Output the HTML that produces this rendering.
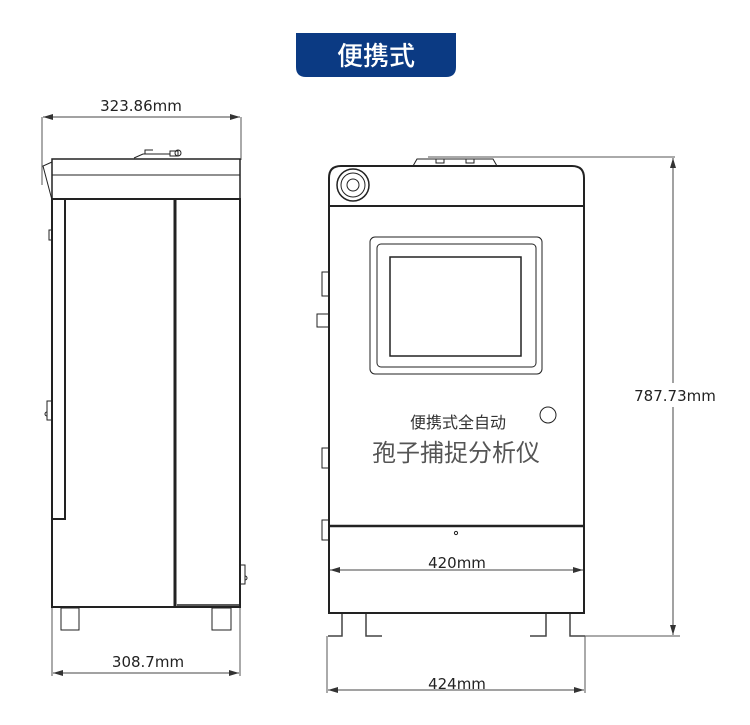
<!DOCTYPE html>
<html><head><meta charset="utf-8"><style>
html,body{margin:0;padding:0;background:#fff;width:750px;height:725px;overflow:hidden}
svg{display:block}
text{font-family:"DejaVu Sans","Liberation Sans","Noto Sans CJK SC",sans-serif}
</style></head><body>
<svg width="750" height="725" viewBox="0 0 750 725" xmlns="http://www.w3.org/2000/svg">
<defs>
<marker id="a" viewBox="0 0 10 6" refX="10" refY="3" markerWidth="10" markerHeight="6" orient="auto-start-reverse" markerUnits="userSpaceOnUse"><path d="M0,0 L10,3 L0,6z" fill="#333"/></marker>
</defs>
<path d="M296,33 H456 V67 Q456,77 446,77 H306 Q296,77 296,67 Z" fill="#0b3a83"/>
<text x="376" y="65" text-anchor="middle" font-size="26" fill="#fff" font-weight="500" font-family="'Noto Sans CJK SC',sans-serif">便携式</text>

<g fill="none" stroke="#222" stroke-width="1.5">
<line x1="42" y1="117" x2="42" y2="185" stroke="#555" stroke-width="1"/>
<line x1="241" y1="117" x2="241" y2="160" stroke="#555" stroke-width="1"/>
<line x1="43" y1="117" x2="240" y2="117" stroke="#444" stroke-width="1" marker-start="url(#a)" marker-end="url(#a)"/>
<rect x="52" y="159" width="188" height="40"/>
<line x1="52" y1="175" x2="240" y2="175" stroke-width="1"/>
<path d="M52,162 L43,166 L52,200" stroke-width="1"/>
<path d="M134,158 L143,154 L170,154 M145,154 l0,-4 l8,0 M170,151 l8,0 l0,5 l-8,0z" stroke-width="1"/>
<circle cx="178" cy="153" r="3" stroke-width="1"/>
<rect x="52" y="199" width="188" height="408" stroke-width="2"/>
<rect x="52" y="199" width="13" height="320" stroke-width="2"/>
<line x1="175" y1="199" x2="175" y2="607" stroke-width="3"/>
<line x1="177" y1="605" x2="240" y2="605" stroke-width="1.5"/>
<path d="M52,401 h-5 v19 h5 M47,412 a2,2 0 0 0 0,4" stroke-width="1"/>
<path d="M240,565 h5 v19 h-5 M245,576 a2,2 0 0 1 0,4" stroke-width="1"/>
<path d="M52,230 h-3 v10 h3" stroke-width="1"/>
<rect x="61" y="608" width="18" height="22" stroke-width="1"/>
<rect x="212" y="608" width="19" height="22" stroke-width="1"/>
<line x1="52" y1="608" x2="52" y2="676" stroke="#555" stroke-width="1"/>
<line x1="240" y1="608" x2="240" y2="676" stroke="#555" stroke-width="1"/>
<line x1="53" y1="673" x2="239" y2="673" stroke="#444" stroke-width="1" marker-start="url(#a)" marker-end="url(#a)"/>

<path d="M329,606 V178 Q329,166 341,166 H572 Q584,166 584,178 V613 H329 Z" stroke-width="2"/>
<line x1="329" y1="206" x2="584" y2="206" stroke-width="2"/>
<path d="M413,166 L417,159 H493 L497,166" stroke-width="1"/>
<rect x="436" y="159" width="8" height="4" stroke-width="1"/>
<rect x="466" y="159" width="8" height="4" stroke-width="1"/>
<line x1="428" y1="157" x2="675" y2="157" stroke="#555" stroke-width="1"/>
<circle cx="353" cy="185" r="16" stroke-width="1.5"/>
<circle cx="353" cy="185" r="12" stroke-width="1"/>
<circle cx="353" cy="185" r="6" stroke-width="1"/>
<rect x="370" y="237" width="172" height="137" rx="5" stroke-width="1"/>
<rect x="377" y="244" width="159" height="123" rx="4" stroke-width="1"/>
<rect x="390" y="257" width="131" height="99" stroke-width="1.5"/>
<circle cx="548" cy="415" r="8" stroke-width="1"/>
<line x1="329" y1="526" x2="584" y2="526" stroke-width="2.5"/>
<circle cx="456" cy="533" r="1.6" stroke-width="1"/>
<rect x="322" y="272" width="7" height="24" stroke-width="1"/>
<rect x="317" y="314" width="12" height="13" stroke-width="1"/>
<rect x="322" y="448" width="7" height="20" stroke-width="1"/>
<rect x="322" y="520" width="7" height="20" stroke-width="1"/>
<line x1="330" y1="570" x2="583" y2="570" stroke="#444" stroke-width="1" marker-start="url(#a)" marker-end="url(#a)"/>
<path d="M328,636 H342 V614 M366,614 V636 H382" stroke-width="1.5" stroke="#444"/>
<path d="M530,636 H546 V614 M570,614 V636 H585" stroke-width="1.5" stroke="#444"/>
<line x1="585" y1="636" x2="680" y2="636" stroke="#555" stroke-width="1"/>
<line x1="327" y1="636" x2="327" y2="693" stroke="#555" stroke-width="1"/>
<line x1="585" y1="636" x2="585" y2="693" stroke="#555" stroke-width="1"/>
<line x1="328" y1="690" x2="584" y2="690" stroke="#444" stroke-width="1" marker-start="url(#a)" marker-end="url(#a)"/>
<line x1="673" y1="158" x2="673" y2="635" stroke="#444" stroke-width="1" marker-start="url(#a)" marker-end="url(#a)"/>
</g>
<rect x="630" y="383" width="90" height="24" fill="#fff"/>
<g fill="#222" font-size="15">
<text x="141" y="111" text-anchor="middle">323.86mm</text>
<text x="148" y="667" text-anchor="middle">308.7mm</text>
<text x="457" y="568" text-anchor="middle">420mm</text>
<text x="457" y="689" text-anchor="middle">424mm</text>
<text x="675" y="401" text-anchor="middle">787.73mm</text>
</g>
<text x="458" y="428" text-anchor="middle" font-size="16" fill="#333" font-family="'Noto Sans CJK SC',sans-serif">便携式全自动</text>
<text x="456" y="461" text-anchor="middle" font-size="24" fill="#555" font-family="'Noto Sans CJK SC',sans-serif">孢子捕捉分析仪</text>
</svg>
</body></html>
